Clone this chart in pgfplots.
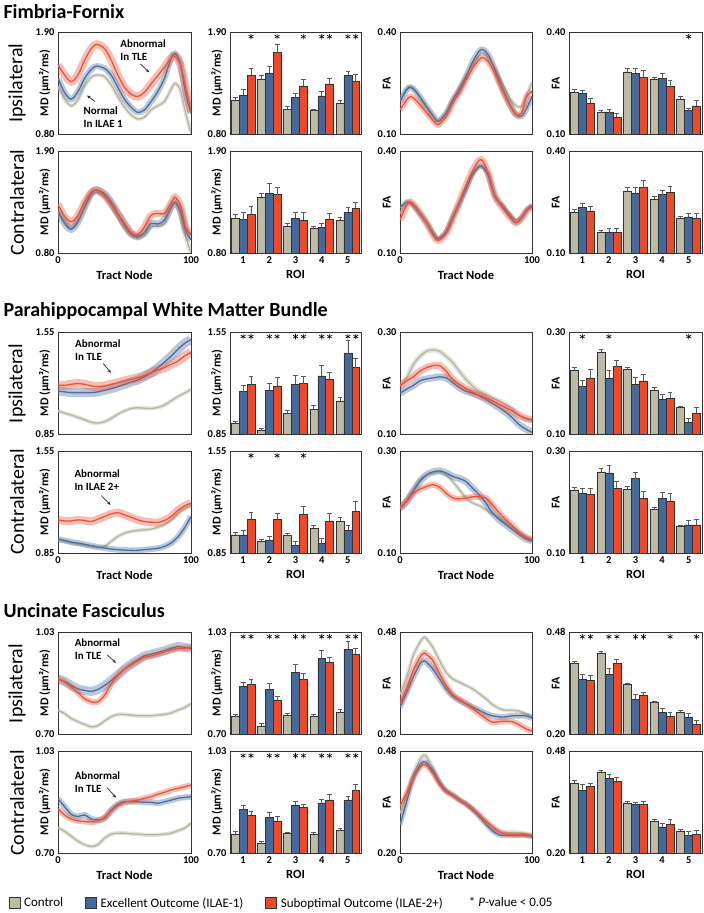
\documentclass[border=0pt]{standalone}
\usepackage{fontspec}
\setmainfont{Carlito}
\usepackage{pgfplots}
\pgfplotsset{compat=1.18}
\usepackage{pgfplotstable}
\usetikzlibrary{arrows.meta}

\definecolor{ctrlB}{HTML}{BDBAA5}
\definecolor{bluB}{HTML}{44699C}
\definecolor{redB}{HTML}{EE4A2A}
\definecolor{ctrlL}{HTML}{B8B6A0}
\definecolor{bluL}{HTML}{4A6FA0}
\definecolor{redL}{HTML}{E9553B}

% ---------- tract profiles: n = node, c = control, e = ILAE-1, s = ILAE-2+
\pgfplotstableread{
n c e s
0 1.311 1.400 1.543
5 1.175 1.246 1.436
10 1.104 1.175 1.364
15 1.168 1.257 1.436
20 1.318 1.400 1.596
25 1.411 1.496 1.721
29 1.436 1.532 1.768
35 1.418 1.507 1.721
40 1.329 1.436 1.596
45 1.204 1.304 1.436
50 1.089 1.175 1.304
55 1.007 1.089 1.229
60 0.961 1.032 1.204
65 0.982 1.061 1.250
70 1.061 1.150 1.340
75 1.104 1.257 1.430
80 1.150 1.400 1.520
85 1.282 1.614 1.620
88 1.346 1.668 1.640
92 1.275 1.561 1.550
96 1.025 1.239 1.300
100 0.811 1.025 1.040
}\ffIMDt
\pgfplotstableread{
n c e s
0 1.244 1.254 1.325
5 1.137 1.119 1.197
10 1.077 1.055 1.137
15 1.148 1.137 1.208
20 1.290 1.297 1.350
25 1.421 1.446 1.456
29 1.456 1.481 1.481
35 1.403 1.439 1.421
40 1.314 1.350 1.325
45 1.197 1.226 1.226
50 1.084 1.102 1.119
55 0.995 1.006 1.020
60 0.960 0.977 0.995
65 0.995 1.020 1.084
70 1.084 1.119 1.208
75 1.091 1.112 1.226
80 1.119 1.155 1.226
85 1.279 1.297 1.339
88 1.332 1.350 1.403
92 1.226 1.261 1.314
96 0.977 1.048 1.084
100 0.807 0.942 0.995
}\ffCMDt
\pgfplotstableread{
n c e s
0 0.200 0.195 0.171
5 0.232 0.230 0.200
8 0.240 0.237 0.210
12 0.225 0.225 0.200
20 0.181 0.181 0.163
25 0.152 0.154 0.140
29 0.140 0.137 0.127
35 0.163 0.161 0.152
40 0.200 0.200 0.191
45 0.237 0.230 0.222
50 0.269 0.269 0.259
55 0.303 0.312 0.293
60 0.332 0.344 0.319
63 0.337 0.348 0.325
67 0.326 0.332 0.312
72 0.292 0.288 0.278
78 0.244 0.230 0.225
84 0.200 0.181 0.179
88 0.183 0.157 0.157
92 0.181 0.152 0.161
96 0.215 0.176 0.210
100 0.251 0.210 0.225
}\ffIFAt
\pgfplotstableread{
n c e s
0 0.216 0.234 0.197
5 0.243 0.250 0.240
8 0.247 0.247 0.250
12 0.234 0.231 0.234
20 0.192 0.189 0.189
25 0.158 0.158 0.153
29 0.144 0.141 0.137
35 0.160 0.163 0.158
40 0.202 0.206 0.202
45 0.247 0.245 0.250
50 0.289 0.289 0.298
55 0.332 0.332 0.342
60 0.352 0.355 0.373
63 0.352 0.352 0.369
67 0.332 0.327 0.332
72 0.269 0.265 0.267
78 0.240 0.236 0.231
84 0.211 0.206 0.202
88 0.197 0.189 0.189
92 0.206 0.202 0.202
96 0.226 0.226 0.224
100 0.240 0.240 0.236
}\ffCFAt
\pgfplotstableread{
n c e s
0 1.009 1.145 1.184
5 0.993 1.139 1.184
10 0.980 1.134 1.191
15 0.964 1.134 1.196
20 0.948 1.134 1.191
25 0.930 1.134 1.180
30 0.925 1.139 1.175
35 0.934 1.150 1.180
40 0.957 1.161 1.191
45 0.986 1.175 1.202
50 1.009 1.191 1.214
55 1.025 1.207 1.225
60 1.030 1.220 1.236
65 1.027 1.243 1.252
70 1.025 1.270 1.270
75 1.032 1.305 1.289
80 1.048 1.343 1.305
85 1.077 1.384 1.327
90 1.107 1.430 1.350
95 1.130 1.470 1.384
100 1.157 1.498 1.411
}\phIMDt
\pgfplotstableread{
n c e s
0 0.941 0.945 1.077
5 0.930 0.936 1.070
10 0.918 0.925 1.070
15 0.911 0.918 1.077
20 0.902 0.909 1.073
25 0.895 0.900 1.066
30 0.889 0.891 1.082
35 0.895 0.884 1.100
40 0.930 0.877 1.118
45 0.964 0.873 1.127
50 0.986 0.870 1.111
55 0.998 0.868 1.095
60 1.005 0.868 1.077
65 1.009 0.873 1.066
70 1.014 0.877 1.061
75 1.027 0.882 1.059
80 1.043 0.895 1.073
85 1.077 0.918 1.100
90 1.123 0.959 1.141
95 1.157 1.020 1.173
100 1.180 1.100 1.191
}\phCMDt
\pgfplotstableread{
n c e s
0 0.194 0.180 0.194
5 0.210 0.188 0.204
10 0.236 0.195 0.212
15 0.252 0.204 0.223
20 0.262 0.208 0.230
25 0.265 0.210 0.234
30 0.262 0.212 0.234
35 0.252 0.210 0.223
40 0.240 0.201 0.207
45 0.223 0.191 0.197
50 0.207 0.184 0.189
55 0.194 0.180 0.182
60 0.184 0.175 0.176
65 0.178 0.168 0.171
70 0.171 0.160 0.165
75 0.165 0.152 0.158
80 0.158 0.143 0.152
85 0.149 0.132 0.145
90 0.137 0.119 0.137
95 0.129 0.110 0.131
100 0.126 0.103 0.128
}\phIFAt
\pgfplotstableread{
n c e s
0 0.188 0.188 0.188
5 0.204 0.201 0.201
10 0.224 0.221 0.217
15 0.243 0.240 0.225
20 0.253 0.253 0.230
25 0.257 0.259 0.234
30 0.259 0.261 0.229
35 0.253 0.257 0.217
40 0.240 0.250 0.208
45 0.224 0.246 0.206
50 0.208 0.240 0.208
55 0.198 0.227 0.210
60 0.193 0.214 0.210
65 0.185 0.198 0.208
70 0.177 0.179 0.195
75 0.169 0.166 0.179
80 0.159 0.156 0.166
85 0.150 0.146 0.154
90 0.139 0.137 0.141
95 0.130 0.128 0.132
100 0.124 0.124 0.126
}\phCFAt
\pgfplotstableread{
n c e s
0 0.777 0.878 0.878
5 0.766 0.870 0.868
10 0.750 0.857 0.852
15 0.740 0.846 0.834
20 0.731 0.841 0.814
25 0.723 0.838 0.804
30 0.727 0.844 0.804
35 0.742 0.857 0.825
40 0.756 0.873 0.862
45 0.763 0.891 0.889
50 0.763 0.910 0.910
55 0.761 0.926 0.923
60 0.759 0.940 0.937
65 0.759 0.953 0.948
70 0.759 0.958 0.953
75 0.761 0.964 0.958
80 0.763 0.969 0.966
85 0.768 0.977 0.972
90 0.777 0.983 0.977
95 0.785 0.980 0.977
100 0.798 0.977 0.980
}\ufIMDt
\pgfplotstableread{
n c e s
0 0.782 0.875 0.843
5 0.770 0.850 0.823
10 0.754 0.825 0.810
15 0.738 0.818 0.804
20 0.727 0.823 0.802
25 0.721 0.810 0.800
30 0.727 0.807 0.804
35 0.748 0.812 0.815
40 0.761 0.839 0.836
45 0.764 0.858 0.853
50 0.764 0.866 0.864
55 0.762 0.866 0.868
60 0.761 0.866 0.871
65 0.759 0.864 0.877
70 0.759 0.864 0.882
75 0.759 0.861 0.890
80 0.761 0.866 0.896
85 0.764 0.871 0.904
90 0.772 0.877 0.909
95 0.780 0.880 0.914
100 0.796 0.882 0.920
}\ufCMDt
\pgfplotstableread{
n c e s
0 0.308 0.274 0.283
5 0.356 0.315 0.324
10 0.415 0.356 0.374
15 0.451 0.392 0.410
18 0.465 0.401 0.422
20 0.462 0.397 0.419
25 0.437 0.378 0.401
30 0.401 0.351 0.365
35 0.369 0.324 0.333
40 0.351 0.304 0.308
45 0.342 0.292 0.295
50 0.333 0.283 0.283
55 0.324 0.274 0.270
60 0.311 0.265 0.256
65 0.297 0.256 0.243
70 0.281 0.250 0.232
75 0.270 0.247 0.234
80 0.265 0.247 0.235
85 0.265 0.250 0.234
90 0.263 0.250 0.226
95 0.256 0.250 0.215
100 0.247 0.244 0.208
}\ufIFAt
\pgfplotstableread{
n c e s
0 0.309 0.277 0.330
5 0.359 0.341 0.364
10 0.414 0.405 0.405
15 0.455 0.441 0.434
18 0.468 0.450 0.443
20 0.464 0.448 0.441
25 0.432 0.425 0.418
30 0.395 0.394 0.388
35 0.373 0.370 0.368
40 0.361 0.359 0.357
45 0.348 0.345 0.345
50 0.336 0.334 0.334
55 0.323 0.318 0.321
60 0.305 0.300 0.305
65 0.286 0.279 0.288
70 0.268 0.261 0.273
75 0.259 0.250 0.259
80 0.256 0.248 0.252
85 0.256 0.248 0.250
90 0.255 0.248 0.250
95 0.252 0.248 0.250
100 0.250 0.245 0.245
}\ufCFAt

% ---------- ROI bars: r, control (c, ce), ILAE-1 (e, ee), ILAE-2+ (s, se)
\pgfplotstableread{
r c ce e ee s se
1 1.162 0.036 1.219 0.064 1.434 0.075
2 1.391 0.036 1.459 0.068 1.678 0.086
3 1.069 0.032 1.191 0.043 1.320 0.068
4 1.051 0.018 1.212 0.050 1.341 0.061
5 1.133 0.029 1.434 0.043 1.370 0.068
}\ffIMDb
\pgfplotstableread{
r c ce e ee s se
1 1.175 0.036 1.161 0.082 1.214 0.089
2 1.404 0.039 1.443 0.107 1.429 0.079
3 1.089 0.029 1.175 0.061 1.157 0.079
4 1.068 0.014 1.079 0.039 1.168 0.064
5 1.154 0.029 1.239 0.054 1.282 0.064
}\ffCMDb
\pgfplotstableread{
r c ce e ee s se
1 0.223 0.007 0.220 0.008 0.191 0.015
2 0.163 0.005 0.163 0.010 0.150 0.010
3 0.283 0.010 0.278 0.015 0.267 0.019
4 0.261 0.006 0.263 0.016 0.239 0.018
5 0.203 0.007 0.169 0.006 0.183 0.015
}\ffIFAb
\pgfplotstableread{
r c ce e ee s se
1 0.221 0.007 0.234 0.012 0.224 0.014
2 0.161 0.005 0.161 0.012 0.161 0.012
3 0.282 0.010 0.277 0.015 0.292 0.021
4 0.258 0.007 0.272 0.012 0.278 0.019
5 0.202 0.005 0.206 0.010 0.202 0.013
}\ffCFAb
\pgfplotstableread{
r c ce e ee s se
1 0.923 0.016 1.141 0.045 1.191 0.057
2 0.873 0.014 1.150 0.045 1.180 0.057
3 0.991 0.018 1.191 0.061 1.195 0.048
4 1.020 0.025 1.248 0.075 1.225 0.050
5 1.077 0.027 1.402 0.089 1.305 0.064
}\phIMDb
\pgfplotstableread{
r c ce e ee s se
1 0.975 0.016 0.975 0.030 1.080 0.048
2 0.930 0.011 0.935 0.027 1.080 0.045
3 0.970 0.016 0.900 0.027 1.115 0.052
4 1.020 0.020 0.915 0.036 1.070 0.052
5 1.070 0.027 1.005 0.036 1.135 0.068
}\phCMDb
\pgfplotstableread{
r c ce e ee s se
1 0.225 0.006 0.193 0.013 0.210 0.016
2 0.260 0.006 0.210 0.014 0.232 0.013
3 0.226 0.005 0.198 0.012 0.204 0.012
4 0.186 0.005 0.168 0.010 0.171 0.010
5 0.152 0.003 0.123 0.008 0.141 0.011
}\phIFAb
\pgfplotstableread{
r c ce e ee s se
1 0.224 0.005 0.217 0.010 0.215 0.012
2 0.259 0.006 0.257 0.014 0.227 0.014
3 0.225 0.005 0.246 0.013 0.207 0.014
4 0.185 0.005 0.207 0.012 0.201 0.015
5 0.152 0.003 0.155 0.008 0.155 0.010
}\phCFAb
\pgfplotstableread{
r c ce e ee s se
1 0.756 0.009 0.854 0.012 0.860 0.017
2 0.726 0.007 0.844 0.019 0.810 0.012
3 0.761 0.005 0.900 0.026 0.876 0.019
4 0.756 0.007 0.945 0.027 0.932 0.016
5 0.770 0.010 0.974 0.024 0.959 0.018
}\ufIMDb
\pgfplotstableread{
r c ce e ee s se
1 0.762 0.007 0.840 0.013 0.822 0.013
2 0.730 0.006 0.815 0.016 0.804 0.013
3 0.764 0.004 0.856 0.012 0.848 0.009
4 0.761 0.006 0.862 0.012 0.872 0.016
5 0.772 0.009 0.872 0.011 0.902 0.019
}\ufCMDb
\pgfplotstableread{
r c ce e ee s se
1 0.393 0.006 0.350 0.014 0.348 0.012
2 0.423 0.005 0.364 0.015 0.394 0.011
3 0.336 0.003 0.296 0.012 0.306 0.009
4 0.286 0.004 0.260 0.011 0.249 0.009
5 0.260 0.005 0.247 0.009 0.227 0.010
}\ufIFAb
\pgfplotstableread{
r c ce e ee s se
1 0.392 0.007 0.372 0.015 0.383 0.009
2 0.423 0.005 0.406 0.011 0.397 0.011
3 0.337 0.004 0.333 0.007 0.334 0.009
4 0.288 0.005 0.272 0.009 0.279 0.012
5 0.261 0.005 0.248 0.012 0.252 0.011
}\ufCFAb

\pgfplotsset{
  base/.style={scale only axis, height=102pt, anchor=north west,
    axis line style={black!80, line width=0.8pt},
    major tick length=0pt,
    tick label style={font=\bfseries\fontsize{10.5}{12}\selectfont},
    /pgf/number format/assume math mode=true,
    yticklabel style={/pgf/number format/fixed, /pgf/number format/fixed zerofill, /pgf/number format/precision=2},
    ylabel style={at={(axis description cs:-0.10,0.5)}, anchor=center, font=\bfseries\fontsize{12}{14}\selectfont},
    xlabel style={font=\bfseries\fontsize{12.5}{14}\selectfont},
  },
  tract/.style={base, xmin=0, xmax=100, xtick=\empty},
  tractB/.style={base, xmin=0, xmax=100, xtick={0,100}, xlabel={Tract Node}},
  roi/.style={base, xmin=0.5, xmax=5.5, xtick=\empty},
  roiB/.style={base, xmin=0.5, xmax=5.5, xtick={1,2,3,4,5}, xlabel={ROI}},
  errb/.style={error bars/.cd, y dir=plus, y explicit,
    error bar style={line width=0.8pt, black!65},
    error mark options={rotate=90, line width=0.8pt, black!65, mark size=2.4pt}},
}

\newcommand\tr[4]{%
  \addplot[smooth, draw=ctrlL, line width=#2, opacity=0.38] table[x=n,y=c]{#1};
  \addplot[smooth, draw=ctrlL, line width=1.3pt] table[x=n,y=c]{#1};
  \addplot[smooth, draw=bluL, line width=#3, opacity=0.38] table[x=n,y=e]{#1};
  \addplot[smooth, draw=bluL, line width=1.3pt] table[x=n,y=e]{#1};
  \addplot[smooth, draw=redL, line width=#4, opacity=0.38] table[x=n,y=s]{#1};
  \addplot[smooth, draw=redL, line width=1.3pt] table[x=n,y=s]{#1};
}
\newcommand\br[1]{%
  \addplot[ybar, bar width=0.3, fill=ctrlB, draw=black!80, line width=0.5pt, errb]
    table[x expr=\thisrow{r}-0.3, y=c, y error=ce]{#1};
  \addplot[ybar, bar width=0.3, fill=bluB, draw=black!80, line width=0.5pt, errb]
    table[x=r, y=e, y error=ee]{#1};
  \addplot[ybar, bar width=0.3, fill=redB, draw=black!80, line width=0.5pt, errb]
    table[x expr=\thisrow{r}+0.3, y=s, y error=se]{#1};
}
\newcommand\st[1]{\addplot[only marks, mark=asterisk, mark size=2.8pt, black, mark options={line width=0.6pt}] coordinates {#1};}
\newcommand\ann[3]{\node[font=\bfseries\fontsize{11}{13}\selectfont, align=left] at (axis cs:#1,#2) {#3};}
\newcommand\arr[4]{\draw[-{Stealth[length=3.5pt,width=3pt]}, line width=0.7pt, black!85] (axis cs:#1,#2) -- (axis cs:#3,#4);}

\def\MDl{MD (µm²/ms)}

\begin{document}
\begin{tikzpicture}
\useasboundingbox (0pt,0pt) rectangle (704pt,913pt);

% titles and row labels
\node[anchor=west, font=\bfseries\fontsize{20}{22}\selectfont] at (0pt,901pt) {Fimbria-Fornix};
\node[anchor=west, font=\bfseries\fontsize{20}{22}\selectfont] at (0pt,602pt) {Parahippocampal White Matter Bundle};
\node[anchor=west, font=\bfseries\fontsize{20}{22}\selectfont] at (0pt,302pt) {Uncinate Fasciculus};
\foreach \yy/\tt in {830/Ipsilateral, 710.5/Contralateral, 529.5/Ipsilateral, 411/Contralateral, 229.5/Ipsilateral, 110/Contralateral}
  \node[rotate=90, font=\fontsize{20}{22}\selectfont] at (17pt,\yy pt) {\tt};

% ================= Fimbria-Fornix
\begin{axis}[tract, at={(58pt,881pt)}, width=133pt, ymin=0.80, ymax=1.90, ytick={0.80,1.90}, ylabel={\MDl}]
\tr{\ffIMDt}{4pt}{6pt}{8pt}
\ann{64}{1.70}{Abnormal\\In TLE}
\arr{62}{1.555}{68.5}{1.465}
\ann{34}{0.98}{Normal\\In ILAE 1}
\arr{27.7}{1.15}{21.9}{1.215}
\end{axis}
\begin{axis}[roi, at={(230pt,881pt)}, width=131pt, ymin=0.80, ymax=1.90, ytick={0.80,1.90}, ylabel={\MDl}]
\br{\ffIMDb}
\st{(1.3,1.85) (2.3,1.85) (3.3,1.85) (4,1.85) (4.3,1.85) (5,1.85) (5.3,1.85)}
\end{axis}
\begin{axis}[tract, at={(400pt,881pt)}, width=132pt, ymin=0.10, ymax=0.40, ytick={0.10,0.40}, ylabel={FA}]
\tr{\ffIFAt}{4pt}{6pt}{6pt}
\end{axis}
\begin{axis}[roi, at={(569pt,881pt)}, width=133pt, ymin=0.10, ymax=0.40, ytick={0.10,0.40}, ylabel={FA}]
\br{\ffIFAb}
\st{(5,0.3865)}
\end{axis}

\begin{axis}[tractB, at={(58pt,762pt)}, width=133pt, ymin=0.80, ymax=1.90, ytick={0.80,1.90}, ylabel={\MDl}]
\tr{\ffCMDt}{5pt}{7pt}{7pt}
\end{axis}
\begin{axis}[roiB, at={(230pt,762pt)}, width=131pt, ymin=0.80, ymax=1.90, ytick={0.80,1.90}, ylabel={\MDl}]
\br{\ffCMDb}
\end{axis}
\begin{axis}[tractB, at={(400pt,762pt)}, width=132pt, ymin=0.10, ymax=0.40, ytick={0.10,0.40}, ylabel={FA}]
\tr{\ffCFAt}{4pt}{5pt}{7pt}
\end{axis}
\begin{axis}[roiB, at={(569pt,762pt)}, width=133pt, ymin=0.10, ymax=0.40, ytick={0.10,0.40}, ylabel={FA}]
\br{\ffCFAb}
\end{axis}

% ================= Parahippocampal
\begin{axis}[tract, at={(58pt,581pt)}, width=133pt, ymin=0.85, ymax=1.55, ytick={0.85,1.55}, ylabel={\MDl}]
\tr{\phIMDt}{4pt}{9pt}{9pt}
\ann{30}{1.425}{Abnormal\\In TLE}
\arr{34}{1.334}{39.8}{1.27}
\end{axis}
\begin{axis}[roi, at={(230pt,581pt)}, width=131pt, ymin=0.85, ymax=1.55, ytick={0.85,1.55}, ylabel={\MDl}]
\br{\phIMDb}
\st{(1,1.5185) (1.3,1.5185) (2,1.5185) (2.3,1.5185) (3,1.5185) (3.3,1.5185) (4,1.5185) (4.3,1.5185) (5,1.5185) (5.3,1.5185)}
\end{axis}
\begin{axis}[tract, at={(400pt,581pt)}, width=132pt, ymin=0.10, ymax=0.30, ytick={0.10,0.30}, ylabel={FA}]
\tr{\phIFAt}{5pt}{7pt}{7pt}
\end{axis}
\begin{axis}[roi, at={(569pt,581pt)}, width=133pt, ymin=0.10, ymax=0.30, ytick={0.10,0.30}, ylabel={FA}]
\br{\phIFAb}
\st{(1,0.291) (2,0.291) (5,0.291)}
\end{axis}

\begin{axis}[tractB, at={(58pt,462pt)}, width=133pt, ymin=0.85, ymax=1.55, ytick={0.85,1.55}, ylabel={\MDl}]
\tr{\phCMDt}{4pt}{6pt}{8pt}
\ann{29.5}{1.35}{Abnormal\\In ILAE 2+}
\arr{32.7}{1.243}{39.5}{1.18}
\end{axis}
\begin{axis}[roiB, at={(230pt,462pt)}, width=131pt, ymin=0.85, ymax=1.55, ytick={0.85,1.55}, ylabel={\MDl}]
\br{\phCMDb}
\st{(1.3,1.5185) (2.3,1.5185) (3.3,1.5185)}
\end{axis}
\begin{axis}[tractB, at={(400pt,462pt)}, width=132pt, ymin=0.10, ymax=0.30, ytick={0.10,0.30}, ylabel={FA}]
\tr{\phCFAt}{4pt}{7pt}{6pt}
\end{axis}
\begin{axis}[roiB, at={(569pt,462pt)}, width=133pt, ymin=0.10, ymax=0.30, ytick={0.10,0.30}, ylabel={FA}]
\br{\phCFAb}
\end{axis}

% ================= Uncinate
\begin{axis}[tract, at={(58pt,281pt)}, width=133pt, ymin=0.70, ymax=1.03, ytick={0.70,1.03}, ylabel={\MDl}]
\tr{\ufIMDt}{4pt}{9pt}{6pt}
\ann{29.7}{0.974}{Abnormal\\In TLE}
\arr{37}{0.956}{43.6}{0.930}
\end{axis}
\begin{axis}[roi, at={(230pt,281pt)}, width=131pt, ymin=0.70, ymax=1.03, ytick={0.70,1.03}, ylabel={\MDl}]
\br{\ufIMDb}
\st{(1,1.015) (1.3,1.015) (2,1.015) (2.3,1.015) (3,1.015) (3.3,1.015) (4,1.015) (4.3,1.015) (5,1.015) (5.3,1.015)}
\end{axis}
\begin{axis}[tract, at={(400pt,281pt)}, width=132pt, ymin=0.20, ymax=0.48, ytick={0.20,0.48}, ylabel={FA}]
\tr{\ufIFAt}{4pt}{6pt}{6pt}
\end{axis}
\begin{axis}[roi, at={(569pt,281pt)}, width=133pt, ymin=0.20, ymax=0.48, ytick={0.20,0.48}, ylabel={FA}]
\br{\ufIFAb}
\st{(1,0.467) (1.3,0.467) (2,0.467) (2.3,0.467) (3,0.467) (3.3,0.467) (4.3,0.467) (5.3,0.467)}
\end{axis}

\begin{axis}[tractB, at={(58pt,162pt)}, width=133pt, ymin=0.70, ymax=1.03, ytick={0.70,1.03}, ylabel={\MDl}]
\tr{\ufCMDt}{4pt}{6pt}{6pt}
\ann{29.7}{0.930}{Abnormal\\In TLE}
\arr{37}{0.911}{43.6}{0.879}
\end{axis}
\begin{axis}[roiB, at={(230pt,162pt)}, width=131pt, ymin=0.70, ymax=1.03, ytick={0.70,1.03}, ylabel={\MDl}]
\br{\ufCMDb}
\st{(1,1.015) (1.3,1.015) (2,1.015) (2.3,1.015) (3,1.015) (3.3,1.015) (4,1.015) (4.3,1.015) (5,1.015) (5.3,1.015)}
\end{axis}
\begin{axis}[tractB, at={(400pt,162pt)}, width=132pt, ymin=0.20, ymax=0.48, ytick={0.20,0.48}, ylabel={FA}]
\tr{\ufCFAt}{5pt}{5pt}{5pt}
\end{axis}
\begin{axis}[roiB, at={(569pt,162pt)}, width=133pt, ymin=0.20, ymax=0.48, ytick={0.20,0.48}, ylabel={FA}]
\br{\ufCFAb}
\end{axis}

% ================= legend
\begin{axis}[hide axis, scale only axis, width=704pt, height=20pt, at={(0pt,0pt)}, anchor=south west,
  xmin=0, xmax=1, ymin=0, ymax=1,
  legend columns=4,
  legend style={at={(axis description cs:0.012,0.5)}, anchor=west, draw=none, fill=none, inner sep=0pt,
    font=\fontsize{13}{15}\selectfont,
    /tikz/every odd column/.append style={column sep=2pt},
    /tikz/every even column/.append style={column sep=20pt}},
  legend image code/.code={\draw[#1, draw=black!80, line width=0.5pt] (0pt,-5.5pt) rectangle (11pt,5.5pt);}]
\addlegendimage{fill=ctrlB}
\addlegendentry{Control}
\addlegendimage{fill=bluB}
\addlegendentry{Excellent Outcome (ILAE-1)}
\addlegendimage{fill=redB}
\addlegendentry{Suboptimal Outcome (ILAE-2+)}
\addlegendimage{empty legend}
\addlegendentry{*\ \textit{P}-value < 0.05}
\end{axis}
\end{tikzpicture}
\end{document}
